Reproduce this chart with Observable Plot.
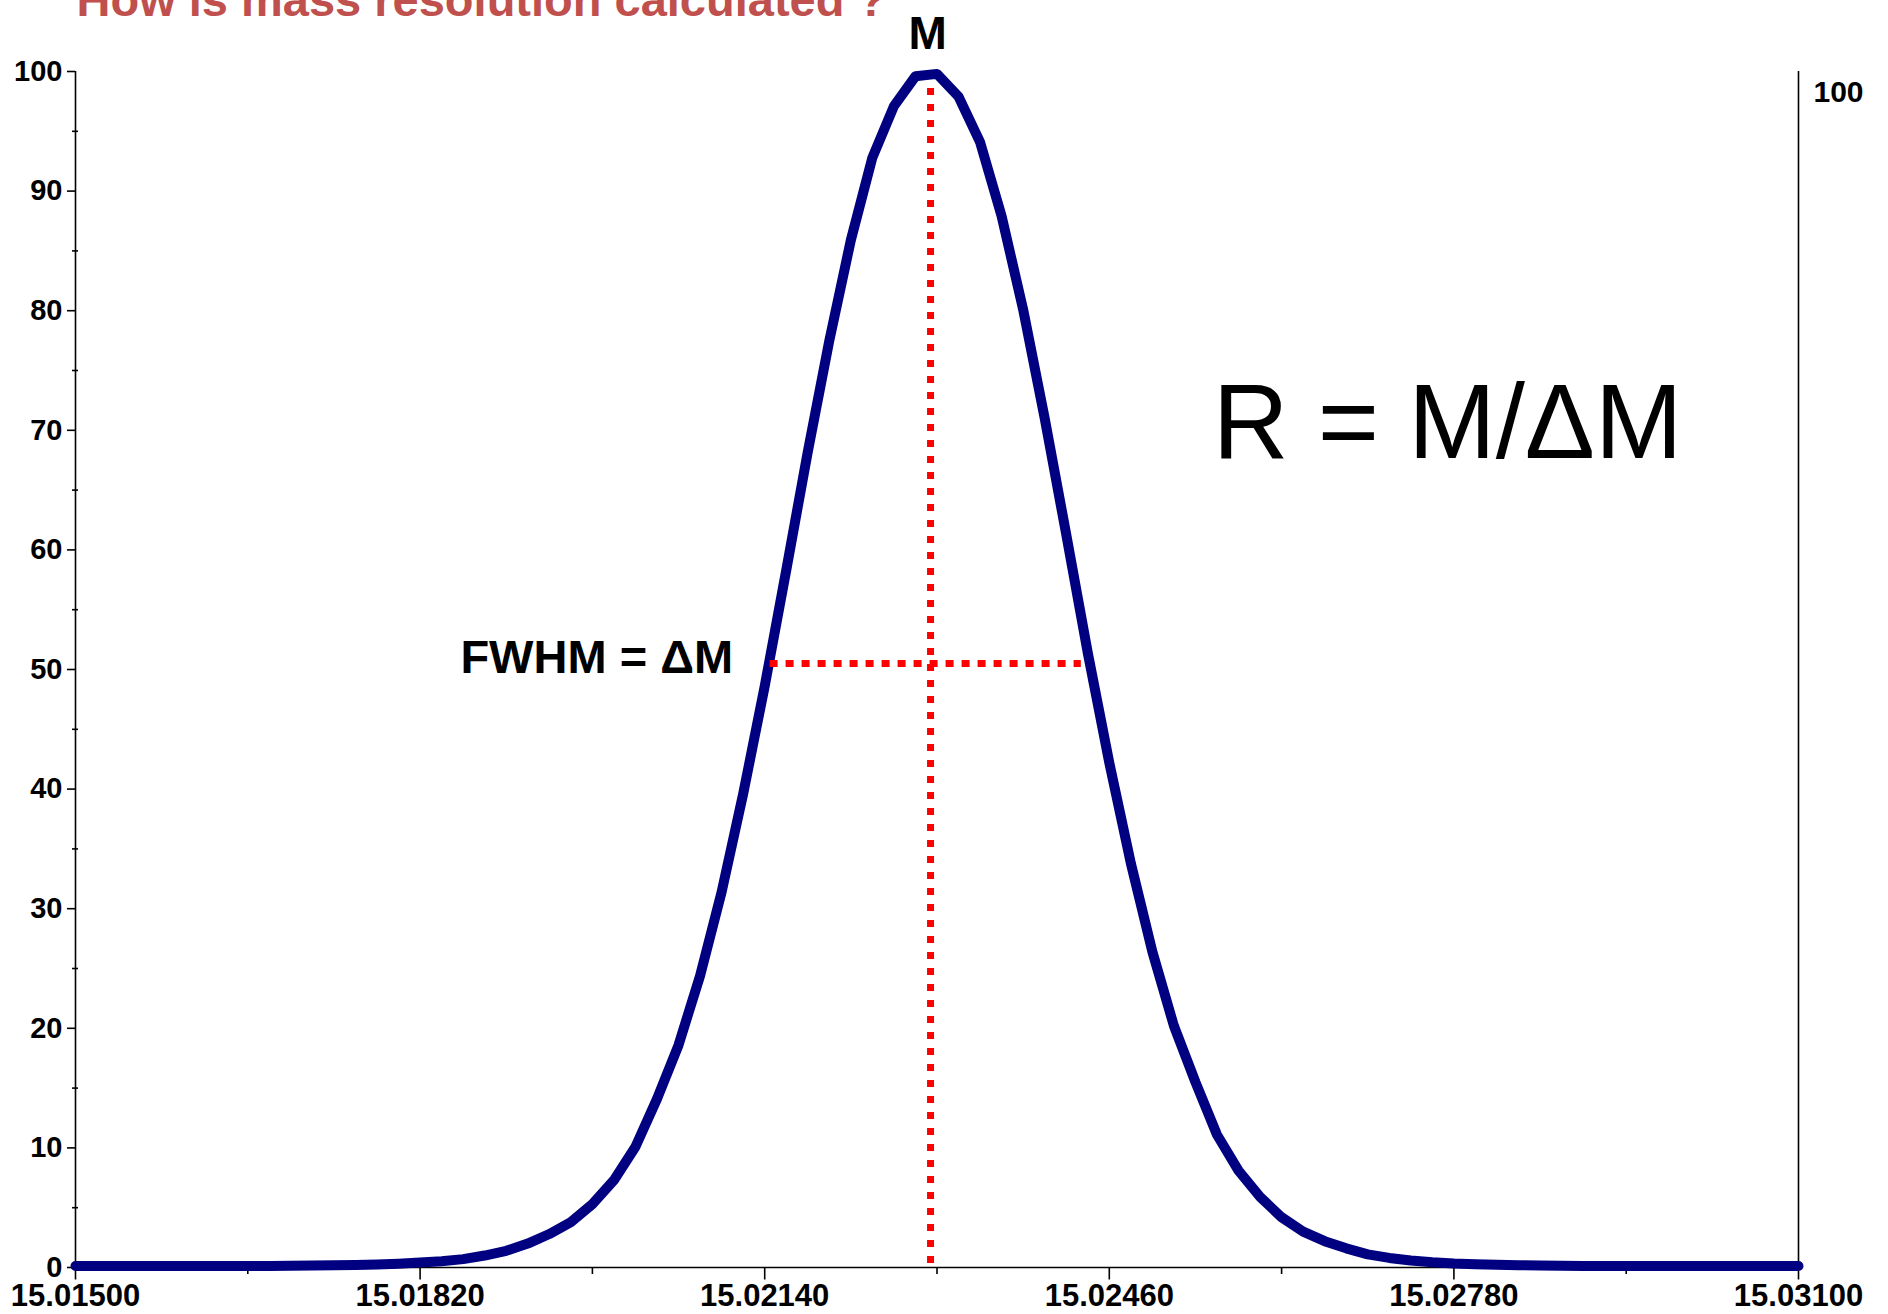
<!DOCTYPE html>
<html><head><meta charset="utf-8">
<script src="https://cdn.jsdelivr.net/npm/d3@7"></script>
<script src="https://cdn.jsdelivr.net/npm/@observablehq/plot@0.6"></script>
<style>html,body{margin:0;padding:0;background:#fff;overflow:hidden}#chart svg{display:block}</style>
</head><body><div id="chart"></div>
<script>
// m/z sampling of the profile
const masses = [
  15.0150,15.0152,15.0154,15.0156,15.0158,15.0160,15.0162,15.0164,15.0166,15.0168,
  15.0170,15.0172,15.0174,15.0176,15.0178,15.0180,15.0182,15.0184,15.0186,15.0188,
  15.0190,15.0192,15.0194,15.0196,15.0198,15.0200,15.0202,15.0204,15.0206,15.0208,
  15.0210,15.0212,15.0214,15.0216,15.0218,15.0220,15.0222,15.0224,15.0226,15.0228,
  15.0230,15.0232,15.0234,15.0236,15.0238,15.0240,15.0242,15.0244,15.0246,15.0248,
  15.0250,15.0252,15.0254,15.0256,15.0258,15.0260,15.0262,15.0264,15.0266,15.0268,
  15.0270,15.0272,15.0274,15.0276,15.0278,15.0280,15.0282,15.0284,15.0286,15.0288,
  15.0290,15.0292,15.0294,15.0296,15.0298,15.0300,15.0302,15.0304,15.0306,15.0308,
  15.0310
];
// relative intensity
const intensities = [
  0.12,0.12,0.12,0.12,0.12,0.12,0.12,0.12,0.13,0.13,
  0.14,0.16,0.18,0.21,0.26,0.32,0.41,0.53,0.70,1.00,
  1.40,2.00,2.80,3.80,5.30,7.30,10.1,14.1,18.6,24.4,
  31.4,39.6,48.6,58.3,68.2,77.5,85.9,92.8,97.1,99.6,
  99.8,97.9,94.1,87.9,80.1,71.0,61.3,51.4,42.2,33.8,
  26.4,20.2,15.5,11.1,8.10,5.90,4.20,3.00,2.20,1.60,
  1.10,0.80,0.58,0.44,0.34,0.28,0.23,0.19,0.16,0.14,
  0.13,0.12,0.12,0.12,0.12,0.12,0.12,0.12,0.12,0.12,
  0.12
];
const xDomain = [15.015, 15.031];
const yDomain = [0, 100];
const xMajorTicks = [15.0150, 15.0182, 15.0214, 15.0246, 15.0278, 15.0310];
const xMinorTicks = [15.0166, 15.0198, 15.0230, 15.0262, 15.0294];
const yMajorTicks = [0, 10, 20, 30, 40, 50, 60, 70, 80, 90, 100];
const yMinorTicks = [5, 15, 25, 35, 45, 55, 65, 75, 85, 95];
const titleText = ["How is mass resolution calculated ?"];
const peakMass = [15.02294];
const peakLine = [0.33, 98.6];
const halfMax = [50.5];
const fwhmRange = [15.02145, 15.02434];
const peakLabel = ["M"];
const fwhmLabel = ["FWHM = \u0394M"];
const formula = ["R = M/\u0394M"];
const formulaPos = [15.02556, 67.7];
const rightAxisLabel = ["100"];

const chart = Plot.plot({
  width: 1888,
  height: 1314,
  marginLeft: 75,
  marginRight: 90,
  marginTop: 71,
  marginBottom: 47,
  style: {fontFamily: "'Liberation Sans', Arial, Helvetica, sans-serif", background: "#fff", color: "#000"},
  x: {domain: xDomain},
  y: {domain: yDomain},
  marks: [
    // axes
    Plot.axisY({ticks: yMajorTicks, tickSize: 8, tickPadding: 5, tickFormat: d => String(d), fontSize: 29, fontWeight: "bold", strokeWidth: 1.6, label: null}),
    Plot.axisY({ticks: yMinorTicks, tickSize: 6, dx: 3, tickFormat: () => "", strokeWidth: 1.6, label: null}),
    Plot.axisX({ticks: xMajorTicks, tickSize: 12.5, tickPadding: 4, tickFormat: d3.format(".5f"), fontSize: 31, fontWeight: "bold", strokeWidth: 1.6, label: null}),
    Plot.axisX({ticks: xMinorTicks, tickSize: 7, tickFormat: () => "", strokeWidth: 1.6, label: null}),
    Plot.ruleX(xDomain, {stroke: "#000", strokeWidth: 1.6}),
    Plot.ruleY([0], {stroke: "#000", strokeWidth: 1.6}),
    Plot.text(rightAxisLabel, {x: [xDomain[1]], y: [yDomain[1]], text: d => d, textAnchor: "start", lineAnchor: "bottom", dx: 15, dy: 30, fontSize: 30, fontWeight: "bold"}),
    // peak profile
    Plot.line(intensities, {x: masses, y: intensities, stroke: "#000080", strokeWidth: 10}),
    // FWHM construction
    Plot.ruleX(peakMass, {x: d => d, y1: peakLine[0], y2: peakLine[1], stroke: "#ff0000", strokeWidth: 7, strokeDasharray: "7,9"}),
    Plot.ruleY(halfMax, {y: d => d, x1: fwhmRange[0], x2: fwhmRange[1], stroke: "#ff0000", strokeWidth: 7, strokeDasharray: "8,8"}),
    // annotations
    Plot.text(peakLabel, {x: peakMass, y: [yDomain[1]], text: d => d, lineAnchor: "bottom", dx: -3, dy: -23, fontSize: 46, fontWeight: "bold"}),
    Plot.text(fwhmLabel, {x: [fwhmRange[0]], y: halfMax, text: d => d, textAnchor: "end", lineAnchor: "bottom", dx: -37, dy: 9, fontSize: 47, fontWeight: "bold"}),
    Plot.text(formula, {x: [formulaPos[0]], y: [formulaPos[1]], text: d => d, textAnchor: "start", lineAnchor: "bottom", fontSize: 105}),
    // title
    Plot.text(titleText, {frameAnchor: "top-left", text: d => d, textAnchor: "start", lineAnchor: "bottom", dx: 1, dy: -56, fill: "#C0504D", fontSize: 47, fontWeight: "bold"})
  ]
});
document.getElementById("chart").appendChild(chart);
</script>
</body></html>
